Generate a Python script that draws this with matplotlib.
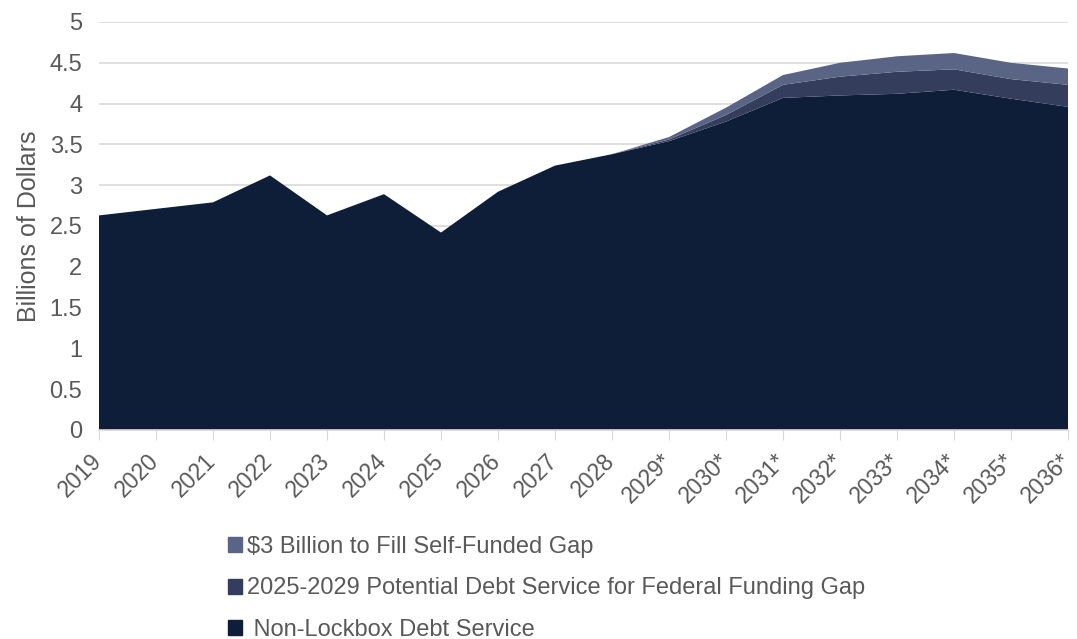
import matplotlib
matplotlib.use("Agg")
import matplotlib.pyplot as plt
import matplotlib.transforms as mtransforms
from matplotlib.patches import Patch

plt.rcParams['font.family'] = ['Liberation Sans', 'DejaVu Sans']

years = ['2019', '2020', '2021', '2022', '2023', '2024', '2025', '2026', '2027',
         '2028', '2029*', '2030*', '2031*', '2032*', '2033*', '2034*', '2035*', '2036*']
non_lockbox = [2.63, 2.71, 2.79, 3.12, 2.63, 2.89, 2.42, 2.92, 3.24,
               3.38, 3.54, 3.78, 4.07, 4.10, 4.12, 4.17, 4.06, 3.96]
federal_gap = [0, 0, 0, 0, 0, 0, 0, 0, 0,
               0, 0.02, 0.08, 0.16, 0.23, 0.27, 0.25, 0.24, 0.27]
self_funded = [0, 0, 0, 0, 0, 0, 0, 0, 0,
               0, 0.03, 0.09, 0.12, 0.17, 0.19, 0.20, 0.20, 0.20]

labels = ['Non-Lockbox Debt Service',
          '2025-2029 Potential Debt Service for Federal Funding Gap',
          '$3 Billion to Fill Self-Funded Gap']
colors = ['#0f1e38', '#343d5b', '#5a6485']
grey = '#595959'

fig = plt.figure(figsize=(10.77, 6.39), dpi=100)
ax = fig.add_axes([99 / 1077, 1 - 430 / 639, 969 / 1077, 408 / 639])

x = list(range(len(years)))
ax.stackplot(x, non_lockbox, federal_gap, self_funded, colors=colors, linewidth=0)

ax.set_xlim(0, len(years) - 1)
ax.set_ylim(0, 5)
ax.set_yticks([0, 0.5, 1, 1.5, 2, 2.5, 3, 3.5, 4, 4.5, 5])
ax.set_yticklabels(['0', '0.5', '1', '1.5', '2', '2.5', '3', '3.5', '4', '4.5', '5'])
ax.set_xticks(x)
ax.tick_params(axis='x', labelbottom=False)

# rotated year labels, placed by hand so the last one stays inside the figure
lbl_trans = ax.get_xaxis_transform() + mtransforms.ScaledTranslation(
    -9 / 100, -19 / 100, fig.dpi_scale_trans)
for i, yr in enumerate(years):
    ax.text(i, 0, yr, transform=lbl_trans, rotation=45, ha='right', va='top',
            rotation_mode='anchor', fontsize=16.5, color=grey)

ax.yaxis.grid(True, color='#d9d9d9', linewidth=1.2)
ax.set_axisbelow(True)
for s in ['top', 'right', 'left']:
    ax.spines[s].set_visible(False)
ax.spines['bottom'].set_color('#d9d9d9')
ax.spines['bottom'].set_linewidth(1.2)
ax.tick_params(axis='y', length=0, labelsize=17, labelcolor=grey, pad=12)
ax.tick_params(axis='x', length=7, color='#d9d9d9')
ax.set_ylabel('Billions of Dollars', fontsize=18, color=grey, labelpad=6)

handles = [Patch(color=colors[2]), Patch(color=colors[1]), Patch(color=colors[0])]
leg_labels = [labels[2], labels[1], ' ' + labels[0]]
fig.legend(handles, leg_labels, loc='upper left', bbox_to_anchor=(228 / 1077, 1 - 536 / 639),
           frameon=False, fontsize=17, labelcolor=grey, handlelength=0.6, handleheight=0.6,
           handletextpad=0.2, labelspacing=0.82, borderaxespad=0, borderpad=0)

fig.savefig('out.png', dpi=100)
